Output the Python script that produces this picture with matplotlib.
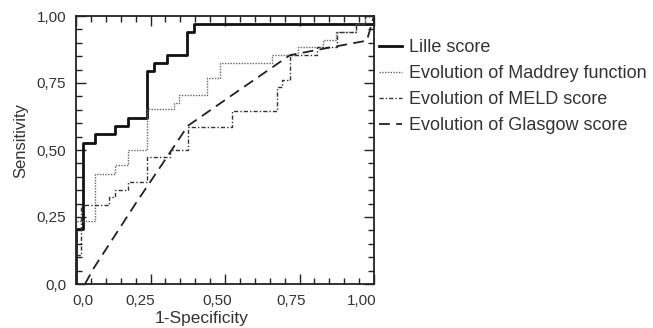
import matplotlib
matplotlib.use('Agg')
import matplotlib.pyplot as plt
import matplotlib.transforms as mtransforms
from matplotlib.ticker import MultipleLocator

plt.rcParams['font.family'] = ['Liberation Sans', 'DejaVu Sans']

# ROC curves (1-specificity, sensitivity); step curves use the top of each rise
lille_fpr = [0.0, 0.0, 0.022, 0.064, 0.131, 0.176, 0.239, 0.262, 0.306, 0.371, 0.396, 1.0, 1.0]
lille_tpr = [0.0, 0.205, 0.527, 0.56, 0.59, 0.618, 0.795, 0.823, 0.854, 0.941, 0.97, 0.97, 1.0]

maddrey_fpr = [0.0, 0.0, 0.064, 0.131, 0.176, 0.239, 0.329, 0.347, 0.439, 0.483, 0.657,
               0.745, 0.83, 0.873, 0.94, 0.97, 1.0]
maddrey_tpr = [0.0, 0.235, 0.41, 0.444, 0.5, 0.652, 0.677, 0.705, 0.767, 0.826, 0.854,
               0.886, 0.91, 0.94, 0.97, 1.0, 1.0]

meld_fpr = [0.0, 0.0, 0.016, 0.112, 0.131, 0.176, 0.239, 0.315, 0.377, 0.522, 0.676, 0.69,
            0.718, 0.808, 0.875, 0.94, 0.97, 1.0]
meld_tpr = [0.0, 0.11, 0.295, 0.326, 0.351, 0.382, 0.473, 0.5, 0.587, 0.647, 0.734, 0.761,
            0.854, 0.886, 0.94, 0.97, 1.0, 1.0]

glasgow_fpr = [0.03, 0.06, 0.2, 0.3, 0.375, 0.55, 0.718, 0.85, 0.976, 1.0]
glasgow_tpr = [0.0, 0.06, 0.3, 0.465, 0.59, 0.725, 0.854, 0.882, 0.908, 1.0]

tick_vals = [0.0, 0.25, 0.5, 0.75, 1.0]
x_tick_labels = ['0,0', '0,25', '0,50', '0,75', '1,00']
y_tick_labels = ['0,0', '0,25', '0,50', '0,75', '1,00']

labels = ['Lille score', 'Evolution of Maddrey function',
          'Evolution of MELD score', 'Evolution of Glasgow score']

fig = plt.figure(figsize=(6.53, 3.28), dpi=100)
ax = fig.add_axes([76 / 653, 44 / 328, 298 / 653, 268 / 328])

l1, = ax.plot(lille_fpr, lille_tpr, drawstyle='steps-post', color='#111111', lw=2.0)
l2, = ax.plot(maddrey_fpr, maddrey_tpr, drawstyle='steps-post', color='#666666', lw=1.0,
              dashes=[1, 1])
l3, = ax.plot(meld_fpr, meld_tpr, drawstyle='steps-post', color='#333333', lw=1.0,
              dashes=[3, 1.5, 1, 1.5])
l4, = ax.plot(glasgow_fpr, glasgow_tpr, color='#222222', lw=1.3, dashes=[6, 3.5])

ax.set_xlim(0, 1.0)
ax.set_ylim(0, 1.0)
ax.set_xticks(tick_vals)
ax.set_xticklabels(x_tick_labels)
ax.set_yticks(tick_vals)
ax.set_yticklabels(y_tick_labels)
ax.xaxis.set_minor_locator(MultipleLocator(0.05))
ax.yaxis.set_minor_locator(MultipleLocator(0.05))
ax.tick_params(which='both', direction='in', top=True, right=True, width=1.0, colors='#222222')
ax.tick_params(which='major', length=7, pad=7, labelsize=11, labelcolor='#333333')
ax.tick_params(which='minor', length=4)
for s in ax.spines.values():
    s.set_linewidth(1.3)
    s.set_color('#222222')

# tick labels sit a little off their ticks in the original
x_offsets = [7, -10, -8, -8, -12]
for lab, dx in zip(ax.get_xticklabels(), x_offsets):
    lab.set_transform(lab.get_transform() + mtransforms.ScaledTranslation(dx / 100, 0, fig.dpi_scale_trans))

ax.set_xlabel('1-Specificity', fontsize=12.5, color='#333333')
ax.set_ylabel('Sensitivity', fontsize=12, color='#333333')
ax.xaxis.set_label_coords(0.42, -0.1)
ax.yaxis.set_label_coords(-0.16, 0.537)

fig.legend([l1, l2, l3, l4], labels, loc='upper left', bbox_to_anchor=(379 / 653, 1 - 39 / 328),
           frameon=False, fontsize=13, handlelength=1.3, handletextpad=0.35, labelspacing=0.5,
           borderaxespad=0, borderpad=0, labelcolor='#333333')

fig.savefig('out.png', dpi=100)
